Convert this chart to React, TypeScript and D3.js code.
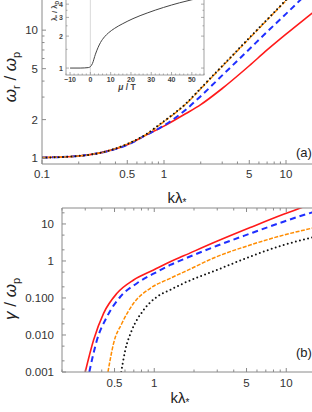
import React from 'react';
import * as d3 from 'd3';

// top panel: real frequency vs k lambda*
const kTop = [0.1, 0.2, 0.3, 0.5, 0.7, 1, 1.5, 2, 3, 5, 7, 10, 15, 20];
const omegaRed = [1.01, 1.04, 1.1, 1.27, 1.5, 1.78, 2.22, 2.62, 3.5, 5.27, 7.0, 9.3, 12.7, 15.8];
const omegaBlue = [1.01, 1.04, 1.1, 1.27, 1.5, 1.8, 2.38, 3.05, 4.43, 7.1, 9.7, 13.4, 19.5, 25.4];
const omegaOrange = [1.01, 1.04, 1.1, 1.29, 1.51, 1.93, 2.63, 3.48, 5.2, 8.6, 12.0, 17.0, 25.5, 34];
const omegaBlack = [1.01, 1.04, 1.1, 1.29, 1.52, 1.95, 2.65, 3.52, 5.25, 8.7, 12.1, 17.2, 25.8, 34.4];

// inset: lambda*/lambdaD vs mu/T
const muInset = [-10, -5, -1, 0, 1, 2.5, 5, 7, 9, 12, 16, 21, 28, 36, 44, 50, 55];
const lambdaInset = [1.0, 1.0, 1.01, 1.03, 1.1, 1.35, 1.74, 1.97, 2.15, 2.37, 2.62, 2.92, 3.3, 3.72, 4.12, 4.4, 4.62];

// bottom panel: damping rate
const kRed = [0.3, 0.347, 0.413, 0.522, 0.697, 0.988, 1.32, 1.67, 2.98, 5.33, 9.53, 12.8, 20];
const gammaRed = [0.001, 0.0073, 0.0385, 0.134, 0.306, 0.571, 0.957, 1.38, 3.4, 8.0, 18.3, 27, 49];
const kBlue = [0.322, 0.368, 0.438, 0.553, 0.74, 1.05, 1.32, 1.67, 2.98, 5.33, 9.53, 12.8, 15.7, 20];
const gammaBlue = [0.001, 0.0073, 0.031, 0.108, 0.25, 0.51, 0.78, 1.12, 2.57, 5.5, 11.5, 16.4, 20.5, 26];
const kOrange = [0.446, 0.492, 0.569, 0.697, 0.933, 1.32, 1.67, 2.98, 5.33, 9.53, 15.7, 20];
const gammaOrange = [0.001, 0.006, 0.0207, 0.072, 0.183, 0.34, 0.5, 1.31, 2.7, 5.0, 7.7, 9.5];
const kBlack = [0.562, 0.603, 0.678, 0.83, 1.05, 1.32, 1.67, 2.98, 5.33, 9.53, 15.7, 20];
const gammaBlack = [0.001, 0.0039, 0.0137, 0.047, 0.108, 0.165, 0.25, 0.57, 1.31, 2.7, 4.3, 5.2];

const topXLabels = [0.1, 0.5, 1, 5, 10];
const topYLabels = [1, 2, 5, 10];
const botXLabels = [0.5, 1, 5, 10];
const botYLabels = [0.001, 0.01, 0.1, 1, 10];
const botYText = ['0.001', '0.010', '0.100', '1', '10'];
const insetXLabels = [-10, 0, 10, 20, 30, 40, 50];
const insetYLabels = [1, 2, 3, 4];

const font = "'Liberation Sans', Arial, Helvetica, sans-serif";
const axisColor = '#8a8a8a';
const labelColor = '#333';

const near = (a: number, b: number) => Math.abs(a - b) / b < 1e-6;

export default function App() {
  // top panel scales
  const xa = d3.scaleLog().domain([0.1, 20]).range([42, 42 + 122 * Math.log10(200)]);
  const ya = d3.scaleLog().domain([0.9, 20]).range([164, 164 - 128 * Math.log10(20 / 0.9)]);
  // bottom panel scales
  const xb = d3.scaleLog().domain([0.2, 20]).range([62, 62 + 132 * 2]);
  const yb = d3.scaleLog().domain([0.001, 27]).range([372, 208]);
  // inset scales
  const xi = d3.scaleLinear().domain([-12, 56]).range([66, 204]);
  const yi = d3.scaleLog().domain([0.86, 4.6]).range([75, -2.3]);

  const lineA = (ks: number[]) =>
    d3.line<number>().x((d, i) => xa(ks[i])).y(d => ya(d)).curve(d3.curveMonotoneX);
  const lineB = (ks: number[]) =>
    d3.line<number>().x((d, i) => xb(ks[i])).y(d => yb(d)).curve(d3.curveMonotoneX);
  const lineI = d3.line<number>().x((d, i) => xi(muInset[i])).y(d => yi(d)).curve(d3.curveMonotoneX);

  const topXTicks = xa.ticks();
  const topYTicks = ya.ticks().filter(v => v >= 1);
  const botXTicks = xb.ticks();
  const botYTicks = yb.ticks().filter(v => {
    const m = v / Math.pow(10, Math.floor(Math.log10(v) + 1e-9));
    return Math.abs(m - 1) < 1e-6 || Math.abs(m - 2) < 1e-6 || Math.abs(m - 5) < 1e-6;
  });
  const insetXTicks = d3.range(-12, 57, 2);
  const insetYTicks = d3.range(1, 4.6, 0.5);

  const curves = [
    { color: '#ff1a1a', dash: undefined, w: 1.6, cap: 'butt' },
    { color: '#1f2fff', dash: '6,4', w: 2, cap: 'butt' },
    { color: '#ff8c00', dash: '4,1.5', w: 1.5, cap: 'butt' },
    { color: '#111', dash: '0,4.2', w: 2, cap: 'round' },
  ];
  const topData = [omegaRed, omegaBlue, omegaOrange, omegaBlack];
  const botData = [
    [kRed, gammaRed],
    [kBlue, gammaBlue],
    [kOrange, gammaOrange],
    [kBlack, gammaBlack],
  ];

  return (
    <svg width={312} height={412} style={{ position: 'absolute', left: 0, top: 0, background: '#fff' }} fontFamily={font}>
      <defs>
        <clipPath id="clipA"><rect x={42} y={-20} width={300} height={184} /></clipPath>
        <clipPath id="clipB"><rect x={62} y={208} width={280} height={164} /></clipPath>
        <clipPath id="clipI"><rect x={66} y={-20} width={138} height={95} /></clipPath>
      </defs>

      {/* ---------- top panel ---------- */}
      <g clipPath="url(#clipA)">
        {curves.map((c, j) => (
          <path key={j} d={lineA(kTop)(topData[j]) || ''} fill="none" stroke={c.color}
            strokeWidth={c.w} strokeDasharray={c.dash} strokeLinecap={c.cap as any} />
        ))}
      </g>
      <line x1={42} x2={42} y1={0} y2={164} stroke={axisColor} />
      <line x1={42} x2={312} y1={164} y2={164} stroke={axisColor} />
      {topXTicks.map((v, i) => {
        const major = topXLabels.some(m => near(v, m));
        return <line key={i} x1={xa(v)} x2={xa(v)} y1={164} y2={164 - (major ? 4 : 2.5)} stroke={axisColor} />;
      })}
      {topYTicks.map((v, i) => {
        const major = topYLabels.some(m => near(v, m));
        return <line key={i} x1={42} x2={42 + (major ? 4 : 2.5)} y1={ya(v)} y2={ya(v)} stroke={axisColor} />;
      })}
      {topXLabels.map((v, i) => (
        <text key={i} x={xa(v)} y={178} fontSize={11.5} textAnchor="middle" fill={labelColor}>{String(v)}</text>
      ))}
      {topYLabels.map((v, i) => (
        <text key={i} x={38} y={ya(v) + 4} fontSize={11.5} textAnchor="end" fill={labelColor}>{String(v)}</text>
      ))}
      <text transform="translate(16,77) rotate(-90)" fontSize={17} textAnchor="middle" fill="#222">
        <tspan fontStyle="italic">ω</tspan>
        <tspan fontSize={11} dy={4}>r</tspan>
        <tspan dy={-4}> / </tspan>
        <tspan fontStyle="italic">ω</tspan>
        <tspan fontSize={11} dy={4}>p</tspan>
      </text>
      <text x={177} y={203} fontSize={15} textAnchor="middle" fill="#222">
        kλ<tspan fontSize={10} dy={3}>*</tspan>
      </text>
      <text x={296} y={157} fontSize={13} fill="#222">(a)</text>

      {/* ---------- inset ---------- */}
      <rect x={66} y={-20} width={138} height={95} fill="#fff" stroke={axisColor} strokeWidth={0.8} />
      <line x1={xi(0)} x2={xi(0)} y1={-20} y2={75} stroke="#d0d0d0" strokeWidth={0.8} />
      <g clipPath="url(#clipI)">
        <path d={lineI(lambdaInset) || ''} fill="none" stroke="#444" strokeWidth={1} />
      </g>
      {insetXTicks.map((v, i) => {
        const major = v % 10 === 0;
        return <line key={i} x1={xi(v)} x2={xi(v)} y1={75} y2={75 - (major ? 3 : 1.5)} stroke={axisColor} strokeWidth={0.7} />;
      })}
      {insetYTicks.map((v, i) => {
        const major = Number.isInteger(v);
        const l = major ? 3 : 1.5;
        return (
          <g key={i}>
            <line x1={66} x2={66 + l} y1={yi(v)} y2={yi(v)} stroke={axisColor} strokeWidth={0.7} />
            <line x1={204} x2={204 - l} y1={yi(v)} y2={yi(v)} stroke={axisColor} strokeWidth={0.7} />
          </g>
        );
      })}
      {insetXLabels.map((v, i) => (
        <text key={i} x={xi(v)} y={82} fontSize={7} fontWeight="bold" textAnchor="middle" fill="#444">
          {v < 0 ? '\u2212' + Math.abs(v) : String(v)}
        </text>
      ))}
      {insetYLabels.map((v, i) => (
        <text key={i} x={63} y={yi(v) + 2.5} fontSize={7} fontWeight="bold" textAnchor="end" fill="#444">{String(v)}</text>
      ))}
      <text x={127} y={90} fontSize={8.5} fontWeight="bold" textAnchor="middle" fill="#444">
        <tspan fontStyle="italic">μ</tspan> / T
      </text>
      <text transform="translate(57,11) rotate(-90)" fontSize={7.5} fontWeight="bold" textAnchor="middle" fill="#444">
        λ<tspan fontSize={5} dy={1.5}>*</tspan><tspan dy={-1.5}> / λ</tspan><tspan fontSize={5} dy={1.5}>D</tspan>
      </text>

      {/* ---------- bottom panel ---------- */}
      <g clipPath="url(#clipB)">
        {curves.map((c, j) => (
          <path key={j} d={lineB(botData[j][0])(botData[j][1]) || ''} fill="none" stroke={c.color}
            strokeWidth={c.w} strokeDasharray={c.dash} strokeLinecap={c.cap as any} />
        ))}
      </g>
      <line x1={62} x2={62} y1={208} y2={372} stroke={axisColor} />
      <line x1={62} x2={312} y1={372} y2={372} stroke={axisColor} />
      <line x1={62} x2={312} y1={208} y2={208} stroke={axisColor} />
      {botXTicks.map((v, i) => {
        const major = botXLabels.some(m => near(v, m));
        const l = major ? 4 : 2.5;
        return (
          <g key={i}>
            <line x1={xb(v)} x2={xb(v)} y1={372} y2={372 - l} stroke={axisColor} />
            <line x1={xb(v)} x2={xb(v)} y1={208} y2={208 + l} stroke={axisColor} />
          </g>
        );
      })}
      {botYTicks.map((v, i) => {
        const major = botYLabels.some(m => near(v, m));
        return <line key={i} x1={62} x2={62 + (major ? 4 : 2.5)} y1={yb(v)} y2={yb(v)} stroke={axisColor} />;
      })}
      {botXLabels.map((v, i) => (
        <text key={i} x={xb(v)} y={387} fontSize={11.5} textAnchor="middle" fill={labelColor}>{String(v)}</text>
      ))}
      {botYLabels.map((v, i) => (
        <text key={i} x={54} y={yb(v) + 4} fontSize={11.5} textAnchor="end" fill={labelColor}>{botYText[i]}</text>
      ))}
      <text transform="translate(16,299) rotate(-90)" fontSize={17} textAnchor="middle" fill="#222">
        <tspan fontStyle="italic">γ</tspan>
        <tspan> / </tspan>
        <tspan fontStyle="italic">ω</tspan>
        <tspan fontSize={11} dy={4}>p</tspan>
      </text>
      <text x={180} y={403} fontSize={15} textAnchor="middle" fill="#222">
        kλ<tspan fontSize={10} dy={3}>*</tspan>
      </text>
      <text x={296} y={357} fontSize={13} fill="#222">(b)</text>
    </svg>
  );
}
